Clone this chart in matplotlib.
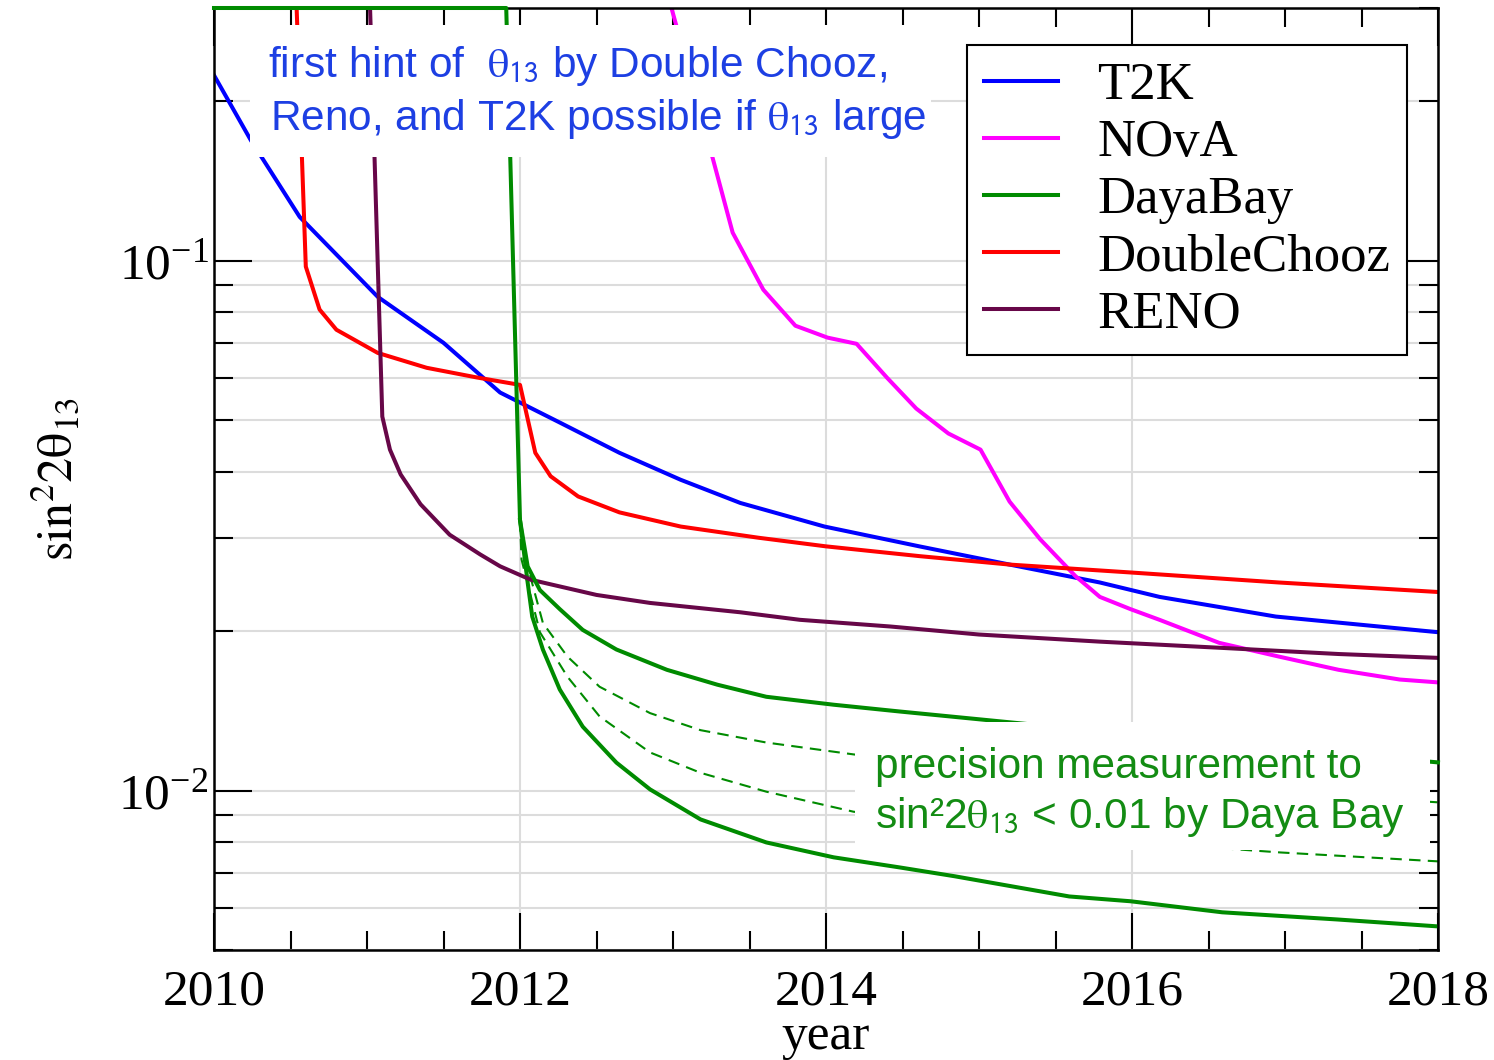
import numpy as np
import matplotlib.pyplot as plt
from matplotlib.patches import Rectangle
from matplotlib.ticker import MultipleLocator, LogLocator, NullFormatter, FormatStrFormatter

plt.rcParams['font.family'] = ['Liberation Serif', 'DejaVu Serif']
plt.rcParams['mathtext.fontset'] = 'stix'

# sensitivity curves (year, sin^2 2theta13)
t2k_year = [2010.0, 2010.24, 2010.56, 2011.07, 2011.5, 2011.87, 2012.26, 2012.65, 2013.05,
            2013.44, 2013.99, 2014.61, 2015.2, 2015.79, 2016.18, 2016.94, 2018.0]
t2k_val = [0.224, 0.169, 0.121, 0.0855, 0.0700, 0.0564, 0.0495, 0.0434, 0.0386,
           0.0349, 0.0315, 0.0289, 0.0267, 0.0247, 0.0232, 0.0213, 0.0199]

nova_year = [2012.99, 2013.26, 2013.39, 2013.59, 2013.80, 2014.01, 2014.20, 2014.40, 2014.59,
             2014.80, 2015.01, 2015.20, 2015.40, 2015.63, 2015.79, 2015.99, 2016.18, 2016.57,
             2016.96, 2017.35, 2017.75, 2018.0]
nova_val = [0.30, 0.156, 0.113, 0.0882, 0.0754, 0.0716, 0.0697, 0.0601, 0.0526,
            0.0472, 0.0440, 0.0351, 0.0298, 0.0254, 0.0232, 0.0220, 0.0210, 0.0190,
            0.0179, 0.0169, 0.0162, 0.0160]

dyb_year = [2010.0, 2011.91, 2012.0, 2012.05, 2012.13, 2012.26, 2012.41, 2012.63, 2012.96,
            2013.29, 2013.61, 2014.05, 2014.48, 2015.34, 2016.0, 2017.0, 2018.0]
dyb_val = [0.30, 0.30, 0.0324, 0.0265, 0.0239, 0.0220, 0.0201, 0.01846, 0.0169,
           0.01584, 0.01503, 0.01452, 0.0141, 0.01333, 0.0128, 0.0120, 0.0113]

dyb_lo_year = [2012.0, 2012.05, 2012.08, 2012.15, 2012.26, 2012.41, 2012.63, 2012.85, 2013.18,
               2013.61, 2014.05, 2014.48, 2014.84, 2015.59, 2015.99, 2016.59, 2017.34, 2018.0]
dyb_lo_val = [0.0324, 0.0247, 0.0213, 0.01844, 0.01551, 0.01320, 0.01129, 0.01005, 0.00882,
              0.00798, 0.00748, 0.00716, 0.00689, 0.00631, 0.00618, 0.00589, 0.00571, 0.00554]

dyb_d1_year = [2012.0, 2012.02, 2012.15, 2012.31, 2012.52, 2012.85, 2013.18, 2013.61, 2014.18,
               2015.0, 2016.0, 2017.0, 2018.0]
dyb_d1_val = [0.0324, 0.0285, 0.0207, 0.0179, 0.0157, 0.0140, 0.0130, 0.01232, 0.0117,
              0.0110, 0.0104, 0.0099, 0.0095]

dyb_d2_year = [2012.0, 2012.01, 2012.13, 2012.31, 2012.52, 2012.85, 2013.18, 2013.61, 2014.18,
               2015.0, 2016.0, 2016.97, 2018.0]
dyb_d2_val = [0.0324, 0.0273, 0.0199, 0.0164, 0.0138, 0.0118, 0.0108, 0.00995, 0.00912,
              0.0086, 0.0080, 0.00764, 0.00735]

dc_year = [2010.54, 2010.6, 2010.69, 2010.80, 2011.07, 2011.39, 2011.72, 2012.0, 2012.1,
           2012.2, 2012.38, 2012.65, 2013.05, 2013.56, 2014.0, 2014.61, 2015.2, 2015.99,
           2016.96, 2018.0]
dc_val = [0.30, 0.0975, 0.0809, 0.0741, 0.067, 0.0628, 0.0602, 0.0583, 0.0434,
          0.0392, 0.0359, 0.0335, 0.0315, 0.0300, 0.0289, 0.0277, 0.0267, 0.0258,
          0.0247, 0.0237]

reno_year = [2011.02, 2011.10, 2011.15, 2011.22, 2011.35, 2011.54, 2011.74, 2011.87, 2012.07,
             2012.5, 2012.85, 2013.44, 2013.83, 2014.42, 2015.0, 2015.79, 2016.57, 2017.35, 2018.0]
reno_val = [0.30, 0.0508, 0.044, 0.0395, 0.0347, 0.0304, 0.0279, 0.0265, 0.025,
            0.0234, 0.0226, 0.0217, 0.0210, 0.0204, 0.0197, 0.0191, 0.0186, 0.0181, 0.0178]

BLUE = '#0000ff'
MAGENTA = '#ff00ff'
GREEN = '#008b00'
RED = '#ff0000'
MAROON = '#670748'

fig = plt.figure(figsize=(14.94, 10.6), dpi=100)
ax = fig.add_axes([214/1494, 110/1060, 1224/1494, 942/1060])

lw = 2.9
ax.plot(t2k_year, t2k_val, color=BLUE, lw=lw, label='T2K')
ax.plot(nova_year, nova_val, color=MAGENTA, lw=lw, label='NOvA')
ax.plot(dyb_year, dyb_val, color=GREEN, lw=lw, label='DayaBay', clip_on=False, zorder=3)
ax.plot(dyb_lo_year, dyb_lo_val, color=GREEN, lw=lw)
ax.plot(dyb_d1_year, dyb_d1_val, color=GREEN, lw=1.5, dashes=(5.5, 3.5))
ax.plot(dyb_d2_year, dyb_d2_val, color=GREEN, lw=1.5, dashes=(5.5, 3.5))
ax.plot(dc_year, dc_val, color=RED, lw=lw, label='DoubleChooz')
ax.plot(reno_year, reno_val, color=MAROON, lw=lw, label='RENO')

ax.set_yscale('log')
ax.set_xlim(2010, 2018)
ax.set_ylim(0.005, 0.3)

ax.xaxis.set_major_locator(MultipleLocator(2))
ax.xaxis.set_minor_locator(MultipleLocator(0.5))
ax.xaxis.set_major_formatter(FormatStrFormatter('%d'))
ax.yaxis.set_major_locator(LogLocator(base=10))
ax.yaxis.set_minor_locator(LogLocator(base=10, subs=np.arange(2, 10)))
ax.yaxis.set_minor_formatter(NullFormatter())

ax.tick_params(which='both', direction='in', top=True, right=True, width=1.5, color='black')
ax.tick_params(which='major', length=27, labelsize=37)
ax.tick_params(which='minor', length=13.5)
ax.tick_params(axis='x', which='major', pad=14)
ax.tick_params(axis='y', which='major', pad=4)

ax.grid(True, axis='x', which='major', color='#dcdcdc', lw=1.5)
ax.grid(True, axis='y', which='both', color='#dcdcdc', lw=1.5)

for sp in ax.spines.values():
    sp.set_linewidth(1.8)

ax.set_xlabel('year', fontsize=37, labelpad=-2)
ax.set_ylabel(r'$\mathrm{sin}^2 2\mathrm{\theta}_{13}$', fontsize=36)
ax.yaxis.set_label_coords(-0.107, 0.5)

# white boxes behind the annotations
ax.add_patch(Rectangle((0.0294, 0.842), 0.556, 0.140, transform=ax.transAxes,
                       facecolor='white', edgecolor='none', zorder=5))
ax.add_patch(Rectangle((0.5237, 0.106), 0.470, 0.136, transform=ax.transAxes,
                       facecolor='white', edgecolor='none', zorder=5))

tcol_b = '#1d3fe3'
tcol_g = '#138c13'
afs = 30.5
th = r'$\mathrm{\theta}_{\mathsf{13}}$'
ax.text(0.0441, 0.9268, 'first hint of  ' + th + ' by Double Chooz,', transform=ax.transAxes,
        color=tcol_b, fontsize=afs, family='Liberation Sans', va='baseline', zorder=6)
ax.text(0.0458, 0.8705, 'Reno, and T2K possible if ' + th + ' large', transform=ax.transAxes,
        color=tcol_b, fontsize=afs, family='Liberation Sans', va='baseline', zorder=6)
ax.text(0.540, 0.1826, 'precision measurement to', transform=ax.transAxes,
        color=tcol_g, fontsize=afs, family='Liberation Sans', va='baseline', zorder=6)
ax.text(0.540, 0.1295, 'sin²2' + th + ' < 0.01 by Daya Bay', transform=ax.transAxes,
        color=tcol_g, fontsize=afs, family='Liberation Sans', va='baseline', zorder=6)

leg = ax.legend(loc='upper left', bbox_to_anchor=(0.615, 0.961), borderaxespad=0,
                fontsize=38, handlelength=1.4, handletextpad=0.74, labelspacing=0.17,
                borderpad=0.33, fancybox=False, framealpha=1, edgecolor='black')
leg.get_frame().set_linewidth(1.5)
leg.set_zorder(7)

fig.savefig('out.png', dpi=100)
